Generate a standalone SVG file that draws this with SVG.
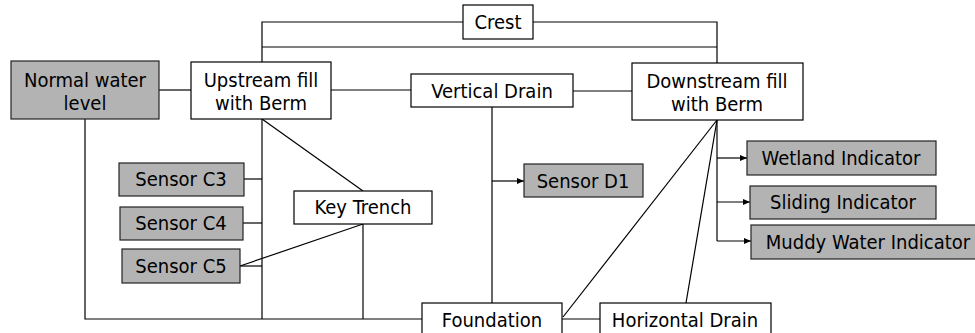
<svg xmlns="http://www.w3.org/2000/svg" width="975" height="333" viewBox="0 0 975 333">
<style>
.box{fill:#fff;stroke:#000;stroke-width:1.2}
.gray{fill:#b3b3b3;stroke:#222;stroke-width:1.2}
text{font-family:"DejaVu Sans Condensed","DejaVu Sans",sans-serif;font-size:20px;fill:#000;text-anchor:middle}
.c line,.c polyline{stroke:#000;stroke-width:1.2;fill:none}
</style>
<defs>
<marker id="ah" markerWidth="8" markerHeight="8" refX="7" refY="4" orient="auto" markerUnits="userSpaceOnUse">
<path d="M0,1 L7,4 L0,7 Z" fill="#000"/>
</marker>
</defs>
<g class="c" id="connectors">
<polyline points="262,62 262,22 463,22"/>
<polyline points="533,22 717,22 717,63"/>
<line x1="262" y1="47" x2="717" y2="47"/>
<line x1="159" y1="90" x2="191" y2="90"/>
<line x1="331" y1="90" x2="411" y2="90"/>
<line x1="573" y1="91" x2="632" y2="91"/>
<polyline points="85,119 85,319 422,319"/>
<line x1="262" y1="119" x2="262" y2="319"/>
<line x1="244" y1="179" x2="262" y2="179"/>
<line x1="243" y1="223" x2="262" y2="223"/>
<line x1="240" y1="266" x2="262" y2="266"/>
<line x1="262" y1="119" x2="363" y2="191"/>
<line x1="363" y1="224" x2="363" y2="319"/>
<line x1="363" y1="224" x2="240" y2="266"/>
<line x1="492" y1="107" x2="492" y2="303"/>
<line x1="492" y1="181" x2="524" y2="181" marker-end="url(#ah)"/>
<line x1="562" y1="319" x2="600" y2="319"/>
<line x1="717" y1="120" x2="563" y2="317"/>
<line x1="717" y1="120" x2="686" y2="303"/>
<line x1="717" y1="120" x2="717" y2="241"/>
<line x1="717" y1="158" x2="747" y2="158" marker-end="url(#ah)"/>
<line x1="717" y1="202" x2="750" y2="202" marker-end="url(#ah)"/>
<line x1="717" y1="241" x2="751" y2="241" marker-end="url(#ah)"/>
</g>
<g id="crest"><rect class="box" x="463" y="5" width="70" height="34"/><text x="498" y="29">Crest</text></g>
<g id="normal-water-level"><rect class="gray" x="11" y="61" width="148" height="58"/><text x="85" y="87">Normal water</text><text x="85" y="110">level</text></g>
<g id="upstream-fill"><rect class="box" x="191" y="62" width="140" height="57"/><text x="261" y="87">Upstream fill</text><text x="261" y="110">with Berm</text></g>
<g id="vertical-drain"><rect class="box" x="411" y="74" width="162" height="33"/><text x="492" y="98">Vertical Drain</text></g>
<g id="downstream-fill"><rect class="box" x="632" y="63" width="171" height="57"/><text x="717" y="88">Downstream fill</text><text x="717" y="111">with Berm</text></g>
<g id="sensor-c3"><rect class="gray" x="119" y="163" width="125" height="33"/><text x="181" y="186">Sensor C3</text></g>
<g id="sensor-c4"><rect class="gray" x="120" y="207" width="123" height="33"/><text x="181" y="230">Sensor C4</text></g>
<g id="sensor-c5"><rect class="gray" x="122" y="249" width="118" height="34"/><text x="181" y="273">Sensor C5</text></g>
<g id="key-trench"><rect class="box" x="294" y="191" width="138" height="33"/><text x="363" y="214">Key Trench</text></g>
<g id="sensor-d1"><rect class="gray" x="524" y="164" width="119" height="33"/><text x="583" y="188">Sensor D1</text></g>
<g id="wetland-indicator"><rect class="gray" x="747" y="141" width="189" height="34"/><text x="841" y="165">Wetland Indicator</text></g>
<g id="sliding-indicator"><rect class="gray" x="750" y="186" width="186" height="33"/><text x="843" y="209">Sliding Indicator</text></g>
<g id="muddy-water-indicator"><rect class="gray" x="751" y="225" width="226" height="34"/><text x="868" y="249">Muddy Water Indicator</text></g>
<g id="foundation"><rect class="box" x="422" y="303" width="140" height="34"/><text x="492" y="327">Foundation</text></g>
<g id="horizontal-drain"><rect class="box" x="600" y="303" width="171" height="34"/><text x="685" y="327">Horizontal Drain</text></g>
</svg>
